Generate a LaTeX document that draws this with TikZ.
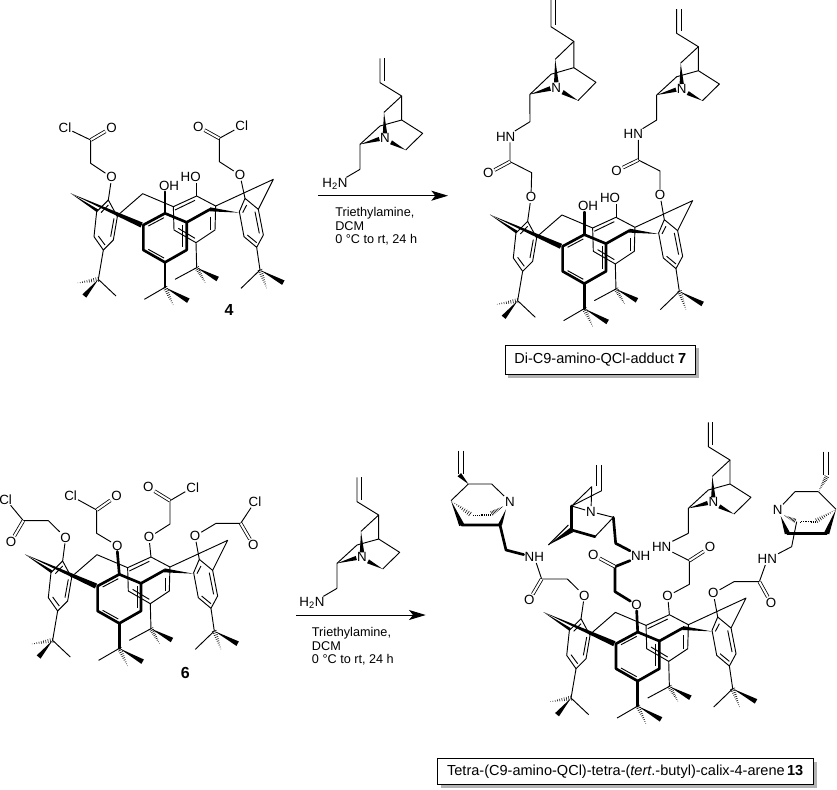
\documentclass[tikz,border=0pt]{standalone}
\usepackage{fontspec}
\setmainfont{Liberation Sans}
\usetikzlibrary{arrows.meta,calc,shadows}
\tikzstyle{atom}=[font=\fontsize{10}{11}\selectfont,inner sep=0.6pt]
\tikzstyle{bond}=[draw,line width=0.7pt,line join=round]
\tikzstyle{thickbond}=[draw,line width=2pt,line join=round,line cap=round]
\tikzstyle{dblbond}=[draw,line width=0.6pt,double,double distance=1.5pt]
\tikzstyle{number}=[font=\fontsize{12}{13}\selectfont\bfseries,inner sep=0pt]
\tikzstyle{cond}=[font=\fontsize{9.5}{10.3}\selectfont,align=left,inner sep=0pt,anchor=north west]
\tikzstyle{rxn}=[draw,line width=0.7pt,-{Stealth[length=12.5pt,width=7.5pt,inset=3pt]}]
\tikzstyle{namebox}=[draw,fill=white,line width=0.7pt,inner sep=0pt,font=\fontsize{10.9}{12}\selectfont,drop shadow={shadow xshift=2.5pt,shadow yshift=-2.5pt,fill=gray!60,opacity=1}]
\tikzstyle{zf}=[x=0.25pt,y=-0.25pt]
% #1 thin end, #2 wide end, #3 half width
\newcommand{\wedgebond}[3]{\fill #1 -- ($#2!#3!90:#1$) -- ($#2!#3!-90:#1$) -- cycle;}
\newcommand{\hashbond}[3]{
  \foreach \hh in {0.1,0.2,...,1.01} {
    \coordinate (hp) at ($#1!\hh!#2$);
    \draw [line width=0.4pt] ($(hp)!{\hh*#3}!90:#1$) -- ($(hp)!{\hh*#3}!-90:#1$);
  }
}
% ring carbon, centre, plain methyl, wedge methyl, hashed methyl
\newcommand{\tbu}[5]{
  \path [bond] #2 -- #3;
  \wedgebond{#2}{#4}{1.9pt}
  \hashbond{#5}{#2}{1.9pt}
}
% calixarene core
\newcommand{\calix}[2]{
  \begin{scope}[shift={#2},zf]
    \coordinate (#1tl) at (205,330);
    \coordinate (#1tf) at (375,370);
    \coordinate (#1tb) at (470,318);
    \coordinate (#1tr) at (615,325);
    % back ring
    \path [bond] (470,318) -- (400,350) -- (402,420) -- (468,458) -- (525,420) -- (527,348) -- cycle;
    \path [bond] (405,360) -- (465,331);
    \path [bond] (512,380) -- (512,420);
    \path [bond] (415,415) -- (465,445);
    \path [bond] (468,458) -- (470,533);
    \tbu{(468,458)}{(470,533)}{(405,568)}{(533,567)}{(498,582)}
    % left ring
    \path [bond] (205,330) -- (232,380) -- (220,450) -- (190,480) -- (162,440) -- (170,365) -- cycle;
    \path [bond] (205,345) -- (183,368);
    \path [bond] (222,385) -- (212,440);
    \path [bond] (175,438) -- (195,465);
    \path [bond] (190,480) -- (175,568);
    \tbu{(190,480)}{(175,568)}{(228,618)}{(133,618)}{(107,580)}
    \path [bond] (240,370) -- (308,311) -- (400,350);
    % right ring
    \path [bond] (615,325) -- (655,358) -- (670,435) -- (650,472) -- (612,440) -- (598,365) -- cycle;
    \path [bond] (620,345) -- (608,368);
    \path [bond] (645,365) -- (658,430);
    \path [bond] (622,435) -- (650,458);
    \path [bond] (650,472) -- (660,540);
    \tbu{(650,472)}{(660,540)}{(603,595)}{(730,578)}{(682,600)}
    \path [bond] (527,348) -- (700,268) -- (655,358);
    % front ring
    \wedgebond{(92,310)}{(305,405)}{2pt}
    \wedgebond{(92,310)}{(172,362)}{1.1pt}
    \path [thickbond] (310,405) -- (375,370) -- (440,397) -- (440,480) -- (375,517) -- (310,480) -- cycle;
    \path [bond] (325,408) -- (372,383);
    \path [bond] (428,405) -- (428,472);
    \path [bond] (325,478) -- (372,504);
    \path [thickbond] (375,517) -- (375,592);
    \tbu{(375,517)}{(375,592)}{(313,628)}{(445,632)}{(402,650)}
    \path [thickbond] (440,397) -- (510,358);
    \wedgebond{(597,368)}{(510,358)}{1.5pt}
  \end{scope}
}
% quinuclidine part, name and scope options
\newcommand{\quin}[2]{
  \begin{scope}[#2,zf]
    \node [atom] (#1n) at (225,295) {N};
    \coordinate (#1e) at (150,388);
    \path [bond] (210,55) -- (210,128) -- (275,168) -- (222,217);
    \path [bond] (223,55) -- (223,122);
    \path [bond] (275,168) -- (275,240) -- (338,280) -- (287,330);
    \path [bond] (275,240) -- (210,258) -- (150,313) -- (#1e);
    \wedgebond{(222,217)}{(225,280)}{1.6pt}
    \wedgebond{(150,313)}{(208,297)}{1.6pt}
    \wedgebond{(287,330)}{(243,307)}{1.6pt}
  \end{scope}
}
\begin{document}
\begin{tikzpicture}[x=0.75pt,y=-0.75pt]
  \useasboundingbox [fill=white] (0,0) rectangle (837,789);

  % compound 4
  \calix{a}{(40,90)}
  \begin{scope}[shift={(40,90)},zf]
    \node [atom] (aol) at (215,262) {O};
    \node [atom] (aor) at (600,255) {O};
    \node [atom] (aoh) at (387,288) {OH};
    \node [atom] (aho) at (452,262) {HO};
    \coordinate (ach) at (152,220);
    \coordinate (ac) at (152,150);
    \node [atom] (aoa) at (215,113) {O};
    \node [atom] (acl) at (75,113) {Cl};
    \coordinate (adh) at (538,215);
    \coordinate (ad) at (538,145);
    \node [atom] (aob) at (475,110) {O};
    \node [atom] (adl) at (605,108) {Cl};
    \path [bond] (atl) -- (aol);
    \path [bond] (aol) -- (ach) -- (ac) -- (acl);
    \path [dblbond] (ac) -- (aoa);
    \path [bond] (atr) -- (aor);
    \path [bond] (aor) -- (adh) -- (ad) -- (adl);
    \path [dblbond] (ad) -- (aob);
    \path [thickbond] (atf) -- (aoh.south -| atf);
    \path [bond] (atb) -- (aho.south -| atb);
  \end{scope}
  \node [number] (num4) at (229,310) {4};

  % first reaction
  \quin{qa}{shift={(310,40)}}
  \node [atom] (ham) at (335,184) {H\textsubscript{2}N};
  \path [bond] (qae) -- (ham);
  \coordinate (ras) at (318,195.7);
  \coordinate (rae) at (448,195.7);
  \path [rxn] (ras) -- (rae);
  \node [cond] (conda) at (335,207) {Triethylamine,\\DCM\\0 °C to rt, 24 h};

  % compound 7
  \calix{b}{(459.3,111.3)}
  \quin{qb}{shift={(477.3,-20)},xscale=1.053,yscale=1.096}
  \quin{qc}{shift={(606.7,-9.3)}}
  \begin{scope}[shift={(480,0)},zf]
    \node [atom] (bol) at (153,592) {O};
    \node [atom] (bor) at (540,585) {O};
    \node [atom] (boh) at (324,619) {OH};
    \node [atom] (bho) at (390,595) {HO};
    \node [atom] (bna) at (77,410) {HN};
    \coordinate (bca) at (90,485);
    \node [atom] (boa) at (25,520) {O};
    \coordinate (bha) at (155,518);
    \node [atom] (bnb) at (460,403) {HN};
    \coordinate (bcb) at (475,480);
    \node [atom] (bob) at (410,512) {O};
    \coordinate (bhb) at (540,513);
    \path [bond] (qbe) -- (bna);
    \path [bond] (bna.south -| bca) -- (bca) -- (bha) -- (bol);
    \path [dblbond] (bca) -- (boa);
    \path [bond] (qce) -- (bnb);
    \path [bond] (bnb.south -| bcb) -- (bcb) -- (bhb) -- (bor);
    \path [dblbond] (bcb) -- (bob);
    \path [bond] (btl) -- (bol);
    \path [bond] (btr) -- (bor);
    \path [thickbond] (btf) -- (boh.south -| btf);
    \path [bond] (btb) -- (bho.south -| btb);
  \end{scope}
  \node [namebox,minimum width=143pt,minimum height=22pt] (box7) at (600.3,359.7) {Di-C9-amino-QCl-adduct \textbf{7}};

  % compound 6
  \calix{c}{(-5.7,451)}
  \begin{scope}[shift={(0,480)},zf]
    \node [atom] (col) at (197,173) {O};
    \node [atom] (cof) at (352,197) {O};
    \node [atom] (cob) at (447,172) {O};
    \node [atom] (cor) at (585,168) {O};
    \node [atom] (cla) at (17,58) {Cl};
    \node [atom] (clb) at (212,47) {Cl};
    \node [atom] (clc) at (578,22) {Cl};
    \node [atom] (cld) at (765,65) {Cl};
    \node [atom] (ooa) at (33,185) {O};
    \node [atom] (oob) at (350,48) {O};
    \node [atom] (ooc) at (445,22) {O};
    \node [atom] (ood) at (760,195) {O};
    \coordinate (cca) at (70,122);
    \coordinate (ccb) at (290,90);
    \coordinate (ccc) at (510,62);
    \coordinate (ccd) at (722,130);
    \path [bond] (ctl) -- (col);
    \path [bond] (ctb) -- (cob);
    \path [bond] (ctr) -- (cor);
    \path [thickbond] (ctf) -- (cof.south);
    \path [bond] (col) -- (145,122) -- (cca) -- (cla);
    \path [bond] (cof) -- (290,160) -- (ccb) -- (clb);
    \path [bond] (cob) -- (510,132) -- (ccc) -- (clc);
    \path [bond] (cor) -- (648,130) -- (ccd) -- (cld);
    \path [dblbond] (cca) -- (ooa);
    \path [dblbond] (ccb) -- (oob);
    \path [dblbond] (ccc) -- (ooc);
    \path [dblbond] (ccd) -- (ood);
  \end{scope}
  \node [number] (num6) at (185.3,672.7) {6};

  % second reaction
  \quin{qd}{shift={(287,459)}}
  \node [atom] (hbm) at (312,603) {H\textsubscript{2}N};
  \path [bond] (qde) -- (hbm);
  \coordinate (rbs) at (296,615);
  \coordinate (rbe) at (425.7,615);
  \path [rxn] (rbs) -- (rbe);
  \node [cond] (condb) at (311.7,627) {Triethylamine,\\DCM\\0 °C to rt, 24 h};

  % compound 13
  \calix{d}{(512.7,508.7)}
  \quin{qe}{shift={(638.3,404)}}
  \begin{scope}[shift={(430,430)},zf]
    \node [atom] (dol) at (463,497) {O};
    \node [atom] (dof) at (620,525) {O};
    \node [atom] (dob) at (713,498) {O};
    \node [atom] (dor) at (850,490) {O};
    \node [atom] (dna) at (313,382) {NH};
    \node [atom] (dnb) at (632,379) {NH};
    \node [atom] (dnc) at (695,350) {HN};
    \node [atom] (dnd) at (1012,388) {HN};
    \node [atom] (oxa) at (298,510) {O};
    \node [atom] (oxb) at (490,375) {O};
    \node [atom] (oxc) at (840,352) {O};
    \node [atom] (oxd) at (1023,518) {O};
    \coordinate (dca) at (335,447);
    \coordinate (dcb) at (555,410);
    \coordinate (dcc) at (778,392);
    \coordinate (dcd) at (988,455);
    \path [bond] (dtl) -- (dol);
    \path [bond] (dtb) -- (dob);
    \path [bond] (dtr) -- (dor);
    \path [thickbond] (dtf) -- (dof.south);
    % arms
    \path [bond] (dol) -- (412,447) -- (dca) -- (dna);
    \path [dblbond] (dca) -- (oxa);
    \path [thickbond] (dof) -- (555,485) -- (dcb) -- (dnb);
    \path [dblbond] (dcb) -- (oxb);
    \path [bond] (dob) -- (778,463) -- (dcc) -- (dnc);
    \path [dblbond] (dcc) -- (oxc);
    \path [bond] (qee) -- (dnc);
    \path [bond] (dor) -- (912,455) -- (dcd) -- (dnd);
    \path [dblbond] (dcd) -- (oxd);
    % left cage
    \node [atom] (nla) at (240,215) {N};
    \path [bond] (85,62) -- (85,132);
    \path [bond] (100,62) -- (100,132);
    \wedgebond{(115,162)}{(88,134)}{1.8pt}
    \path [bond] (115,162) -- (185,162) -- (nla);
    \path [bond] (115,162) -- (63,212);
    \wedgebond{(63,212)}{(95,285)}{2pt}
    \path [thickbond] (95,285) -- (210,285) -- (228,360) -- (dna);
    \wedgebond{(228,238)}{(210,285)}{1.5pt}
    \hashbond{(63,212)}{(120,252)}{1.8pt}
    \hashbond{(125,255)}{(180,255)}{0.8pt}
    \hashbond{(222,228)}{(185,250)}{1.8pt}
    % middle cage
    \node [atom] (nlb) at (483,245) {N};
    \path [bond] (500,105) -- (500,168);
    \path [bond] (515,105) -- (515,182);
    \path [bond] (515,182) -- (425,228) -- (485,170) -- (nlb);
    \path [bond] (425,228) -- (nlb);
    \path [thickbond] (425,228) -- (425,300);
    \path [bond] (355,345) -- (415,285);
    \wedgebond{(355,345)}{(425,300)}{2pt}
    \path [thickbond] (425,300) -- (495,320);
    \path [bond] (495,320) -- (550,262) -- (nlb);
    \path [thickbond] (550,262) -- (557,340) -- (dnb);
    % right cage
    \node [atom] (nlc) at (1043,240) {N};
    \path [bond] (1180,65) -- (1180,135);
    \path [bond] (1195,65) -- (1195,135);
    \hashbond{(1165,185)}{(1190,140)}{1.8pt}
    \path [bond] (1165,185) -- (1095,185) -- (nlc);
    \path [bond] (1165,185) -- (1218,238);
    \wedgebond{(1218,238)}{(1190,310)}{2pt}
    \path [thickbond] (1190,310) -- (1072,310);
    \wedgebond{(1052,258)}{(1072,310)}{2pt}
    \hashbond{(1060,255)}{(1095,272)}{1.6pt}
    \hashbond{(1105,275)}{(1155,275)}{0.8pt}
    \hashbond{(1218,238)}{(1160,272)}{1.8pt}
    \path [bond] (1100,275) -- (1085,350) -- (dnd);
  \end{scope}
  \node [namebox,minimum width=282pt,minimum height=19.7pt] (box13) at (625.2,771.8) {Tetra-(C9-amino-QCl)-tetra-(\textit{tert}.-butyl)-calix-4-arene\,\textbf{13}};
\end{tikzpicture}
\end{document}
